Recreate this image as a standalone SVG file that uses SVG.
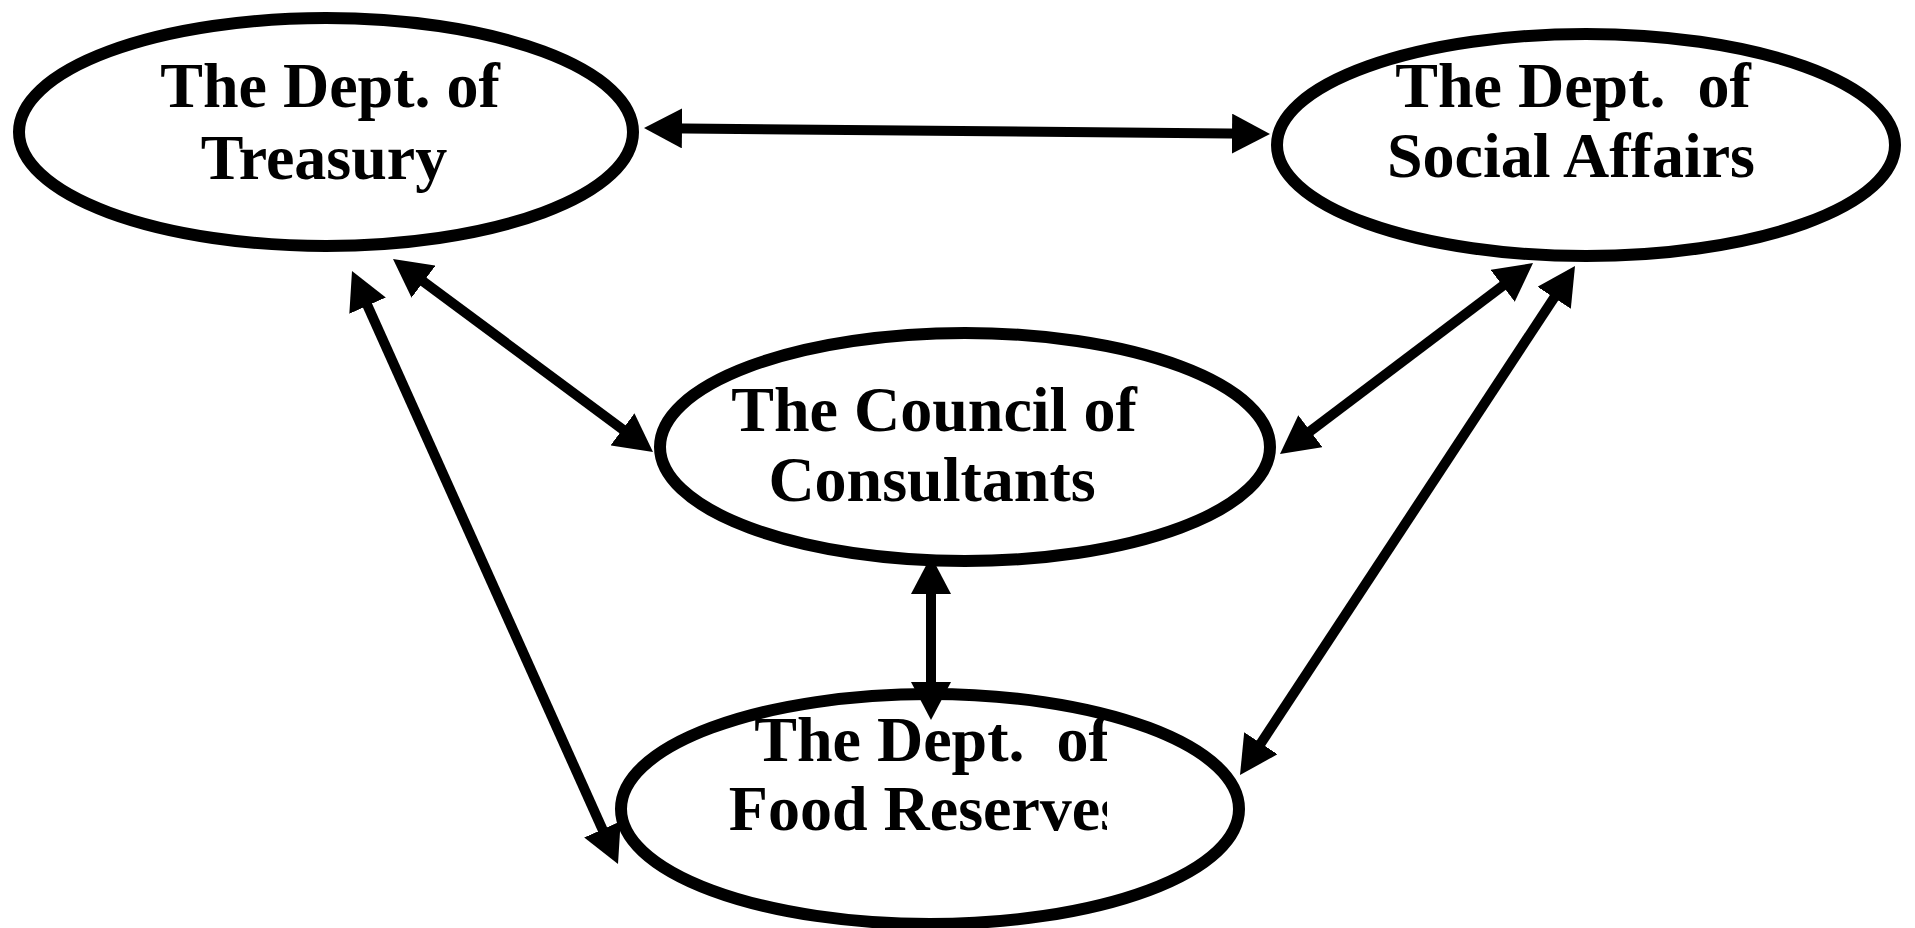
<svg xmlns="http://www.w3.org/2000/svg" width="1915" height="928" viewBox="0 0 1915 928">
  <style>
    .node ellipse { fill: #ffffff; stroke: #000000; stroke-width: 12; }
    .node text { font-family: "Liberation Serif", "Times New Roman", serif; font-weight: bold; font-size: 64px; fill: #000000; text-anchor: middle; }
    #connectors line { stroke: #000000; stroke-width: 10; marker-start: url(#arrow); marker-end: url(#arrow); }
  </style>
  <defs>
    <marker id="arrow" viewBox="0 0 38 40" refX="23" refY="20" markerWidth="38" markerHeight="40" markerUnits="userSpaceOnUse" orient="auto-start-reverse">
      <path d="M0,0 L38,20 L0,40 Z" fill="#000000"/>
    </marker>
    <clipPath id="foodClip">
      <rect x="600" y="680" width="507" height="200"/>
    </clipPath>
  </defs>
  <rect x="0" y="0" width="1915" height="928" fill="#ffffff"/>

  <g id="treasury" class="node">
    <ellipse cx="326" cy="132" rx="307" ry="114"/>
    <text x="330" y="107">The Dept. of</text>
    <text x="324" y="179">Treasury</text>
  </g>

  <g id="social-affairs" class="node">
    <ellipse cx="1586" cy="145" rx="309" ry="111"/>
    <text x="1573" y="107" xml:space="preserve">The Dept.  of</text>
    <text x="1571" y="177">Social Affairs</text>
  </g>

  <g id="council" class="node">
    <ellipse cx="965" cy="447" rx="305" ry="114"/>
    <text x="934" y="431">The Council of</text>
    <text x="932" y="501">Consultants</text>
  </g>

  <g id="food-reserves" class="node">
    <ellipse cx="930" cy="809" rx="309" ry="115"/>
    <g clip-path="url(#foodClip)">
      <text x="932" y="761" xml:space="preserve">The Dept.  of</text>
      <text x="927" y="830">Food Reserves</text>
    </g>
  </g>

  <g id="connectors">
    <line x1="659" y1="128.14" x2="1255" y2="133.86"/>
    <line x1="405.04" y1="267.94" x2="640.96" y2="443.06"/>
    <line x1="358.14" y1="284.69" x2="611.86" y2="850.31"/>
    <line x1="1521.03" y1="272.04" x2="1291.97" y2="444.96"/>
    <line x1="1566.75" y1="278.53" x2="1248.25" y2="762.47"/>
    <line x1="931" y1="571" x2="931" y2="705"/>
  </g>
</svg>
